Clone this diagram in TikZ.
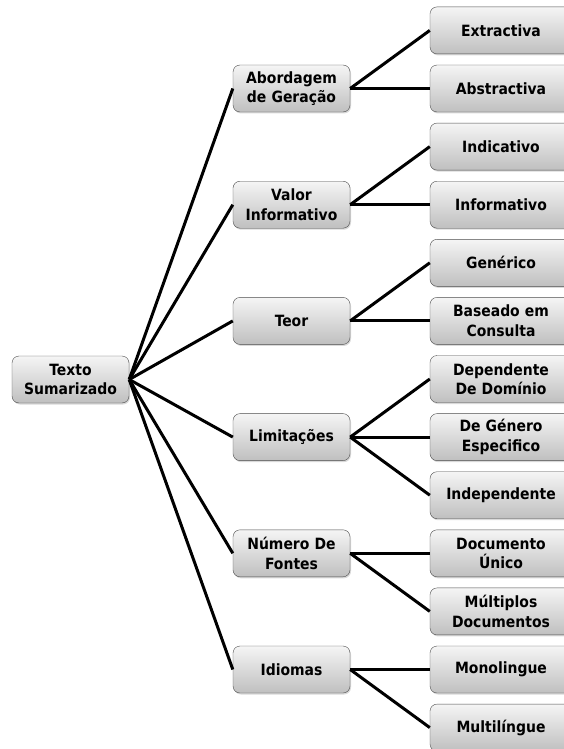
\documentclass[tikz,border=0pt]{standalone}
\usepackage{fontspec}
\setmainfont{DejaVu Sans Condensed}
\usepackage{tikz}
\usetikzlibrary{shapes,arrows,shadows}
\usetikzlibrary{positioning}
\tikzstyle{box} = [rectangle, draw=black!70, top color=gray!8, bottom color=gray!50,
    text width=108pt, align=center, rounded corners=7pt, minimum width=117pt,
    minimum height=47pt, font=\fontsize{15.5}{19.5}\selectfont\bfseries,
    drop shadow={opacity=0.3, shadow xshift=1pt, shadow yshift=-1.5pt}]
\tikzstyle{leaf} = [box, text width=132pt, minimum width=142pt]
\tikzstyle{branch} = [black, line width=3pt]

\begin{document}
\begin{tikzpicture}[auto]
  \useasboundingbox (0,0) rectangle (563pt,-749pt);
  % Place nodes
  \node [box] (texto) at (70.5pt,-379.5pt) {Texto\\Sumarizado};
  \node [box] (abordagem) at (291.5pt,-88.5pt) {Abordagem\\de Geração};
  \node [box, below of=abordagem, node distance=116.2pt] (valor) {Valor\\Informativo};
  \node [box, below of=valor, node distance=116.2pt] (teor) {Teor};
  \node [box, below of=teor, node distance=116.2pt] (limitacoes) {Limitações};
  \node [box, below of=limitacoes, node distance=116.2pt] (numero) {Número De\\Fontes};
  \node [box, below of=numero, node distance=116.2pt] (idiomas) {Idiomas};
  % Place leaves
  \node [leaf, right of=abordagem, node distance=209.5pt] (abstractiva) {Abstractiva};
  \node [leaf, above of=abstractiva, node distance=58.1pt] (extractiva) {Extractiva};
  \node [leaf, right of=valor, node distance=209.5pt] (informativo) {Informativo};
  \node [leaf, above of=informativo, node distance=58.1pt] (indicativo) {Indicativo};
  \node [leaf, right of=teor, node distance=209.5pt] (consulta) {Baseado em\\Consulta};
  \node [leaf, above of=consulta, node distance=58.1pt] (generico) {Genérico};
  \node [leaf, right of=limitacoes, node distance=209.5pt] (genero) {De Género\\Especifico};
  \node [leaf, above of=genero, node distance=58.1pt] (dominio) {Dependente\\De Domínio};
  \node [leaf, below of=genero, node distance=58.1pt] (independente) {Independente};
  \node [leaf, right of=numero, node distance=209.5pt] (unico) {Documento\\Único};
  \node [leaf, below of=unico, node distance=58.1pt] (multiplos) {Múltiplos\\Documentos};
  \node [leaf, right of=idiomas, node distance=209.5pt] (monolingue) {Monolingue};
  \node [leaf, below of=monolingue, node distance=58.1pt] (multilingue) {Multilíngue};
  % Draw edges
  \draw [branch] (texto.east) -- (abordagem.west);
  \draw [branch] (texto.east) -- (valor.west);
  \draw [branch] (texto.east) -- (teor.west);
  \draw [branch] (texto.east) -- (limitacoes.west);
  \draw [branch] (texto.east) -- (numero.west);
  \draw [branch] (texto.east) -- (idiomas.west);
  \draw [branch] (abordagem.east) -- (extractiva.west);
  \draw [branch] (abordagem.east) -- (abstractiva.west);
  \draw [branch] (valor.east) -- (indicativo.west);
  \draw [branch] (valor.east) -- (informativo.west);
  \draw [branch] (teor.east) -- (generico.west);
  \draw [branch] (teor.east) -- (consulta.west);
  \draw [branch] (limitacoes.east) -- (dominio.west);
  \draw [branch] (limitacoes.east) -- (genero.west);
  \draw [branch] (limitacoes.east) -- (independente.west);
  \draw [branch] (numero.east) -- (unico.west);
  \draw [branch] (numero.east) -- (multiplos.west);
  \draw [branch] (idiomas.east) -- (monolingue.west);
  \draw [branch] (idiomas.east) -- (multilingue.west);
\end{tikzpicture}
\end{document}
